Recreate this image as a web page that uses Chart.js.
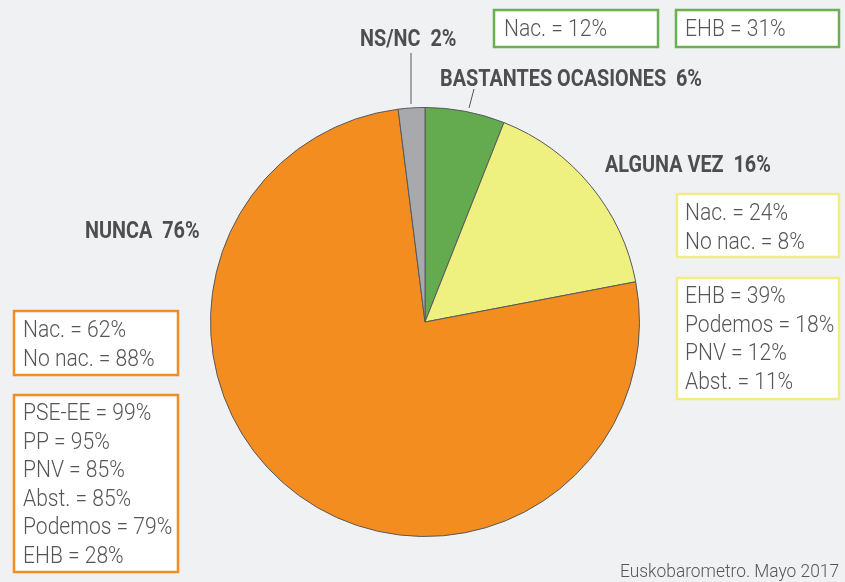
<!DOCTYPE html>
<html>
<head>
<meta charset="utf-8">
<script src="https://cdn.jsdelivr.net/npm/chart.js@4"></script>
<style>
  html, body { margin: 0; padding: 0; background: #f0f1f3; }
  canvas { display: block; }
</style>
</head>
<body>
<canvas id="pie" width="845" height="582"></canvas>
<script>
// ── Data ────────────────────────────────────────────────────────────────
const categories  = ['BASTANTES OCASIONES', 'ALGUNA VEZ', 'NUNCA', 'NS/NC'];
const values      = [6, 16, 76, 2];
const sliceColors = ['#64ab4f', '#eef080', '#f38d1f', '#a8a9ad'];

const greenNac     = ['Nac. = 12%'];
const greenParty   = ['EHB = 31%'];
const yellowNac    = ['Nac. = 24%', 'No nac. = 8%'];
const yellowParty  = ['EHB = 39%', 'Podemos = 18%', 'PNV = 12%', 'Abst. = 11%'];
const orangeNac    = ['Nac. = 62%', 'No nac. = 88%'];
const orangeParty  = ['PSE-EE = 99%', 'PP = 95%', 'PNV = 85%', 'Abst. = 85%', 'Podemos = 79%', 'EHB = 28%'];
const sourceText   = 'Euskobarometro. Mayo 2017';

// ── Fonts / colours ─────────────────────────────────────────────────────
const BOLD_FONT  = 'bold 23px Roboto, "Liberation Sans", sans-serif';
const BOX_FONT   = '300 24px Roboto, "Liberation Sans", sans-serif';
const SRC_FONT   = '300 18px Roboto, "Liberation Sans", sans-serif';
const TXT    = '#4d4e50';
const BOXTXT = '#555658';

// condensed look: squeeze text horizontally
function squeeze(ctx, font, sample, width) {
  ctx.font = font;
  return width / ctx.measureText(sample).width;
}
function narrowText(ctx, text, x, y, sx, align) {
  ctx.save();
  ctx.translate(x, y);
  ctx.scale(sx, 1);
  ctx.textAlign = align || 'left';
  ctx.fillText(text, 0, 0);
  ctx.restore();
}

// ── Overlay: slice labels, leader lines, boxes ──────────────────────────
const overlay = {
  id: 'overlay',
  afterDraw(chart) {
    const ctx = chart.ctx;
    const lab = i => categories[i] + '  ' + values[i] + '%';
    ctx.save();
    ctx.textBaseline = 'alphabetic';

    // leader lines
    ctx.strokeStyle = '#555';
    ctx.lineWidth = 1;
    ctx.beginPath();
    ctx.moveTo(411, 53);  ctx.lineTo(411, 104);
    ctx.moveTo(474, 89);  ctx.lineTo(469, 108);
    ctx.stroke();

    // category labels
    const sb = squeeze(ctx, BOLD_FONT, lab(0), 262);
    ctx.fillStyle = TXT;
    ctx.font = BOLD_FONT;
    narrowText(ctx, lab(3), 360, 46, sb);
    narrowText(ctx, lab(0), 440, 86, sb);
    narrowText(ctx, lab(1), 605, 172, sb);
    narrowText(ctx, lab(2), 85, 238, sb);

    // boxes
    const sx = squeeze(ctx, BOX_FONT, yellowNac[0], 103);
    const box = (x, y, w, h, color, lines, tx, ty) => {
      ctx.fillStyle = '#fff';
      ctx.fillRect(x, y, w, h);
      ctx.strokeStyle = color;
      ctx.lineWidth = 2.5;
      ctx.strokeRect(x, y, w, h);
      ctx.fillStyle = BOXTXT;
      ctx.font = BOX_FONT;
      lines.forEach((t, i) => narrowText(ctx, t, tx, ty + i * 28.6, sx));
    };
    box(494, 10, 164, 37, '#6aaf50', greenNac, 504, 36);
    box(676, 10, 163, 37, '#6aaf50', greenParty, 685, 36);
    box(677, 194, 162, 63, '#f0ed86', yellowNac, 685, 220);
    box(677, 278, 162, 121, '#f0ed86', yellowParty, 685, 303);
    box(14, 311, 164, 64, '#f38d1f', orangeNac, 23, 337);
    box(14, 395, 164, 177, '#f38d1f', orangeParty, 23, 420);

    // source
    const ss = squeeze(ctx, SRC_FONT, sourceText, 219);
    ctx.fillStyle = BOXTXT;
    ctx.font = SRC_FONT;
    narrowText(ctx, sourceText, 839, 577, ss, 'right');
    ctx.restore();
  }
};

new Chart(document.getElementById('pie'), {
  type: 'pie',
  data: {
    labels: categories,
    datasets: [{
      data: values,
      backgroundColor: sliceColors,
      borderColor: '#58585a',
      borderWidth: 1,
    }]
  },
  options: {
    responsive: false,
    animation: false,
    devicePixelRatio: 1,
    layout: { padding: { top: 107, bottom: 45, left: 210, right: 205 } },
    plugins: { legend: { display: false }, tooltip: { enabled: false } },
  },
  plugins: [overlay],
});
</script>
</body>
</html>
